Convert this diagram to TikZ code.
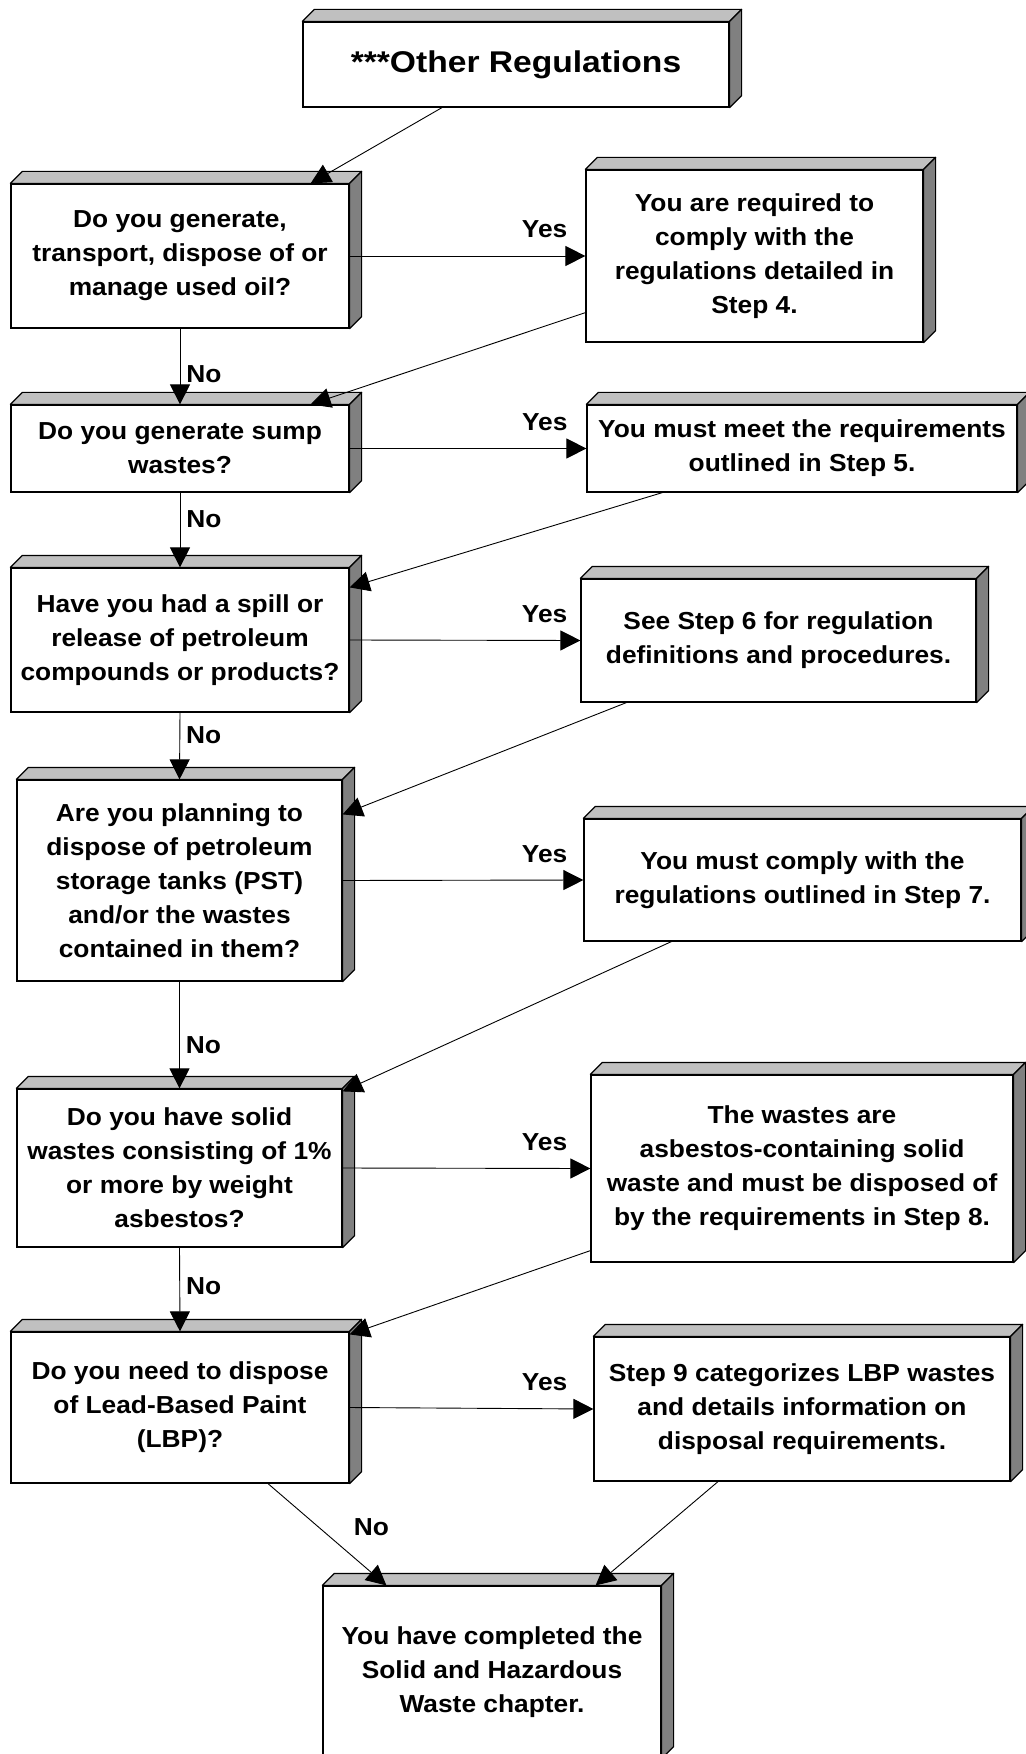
\documentclass[tikz,border=0pt]{standalone}
\usepackage{fontspec}
\setmainfont{Liberation Sans}[FakeStretch=1.07]
\newfontfamily\titlefont{Liberation Sans}[FakeStretch=1.12]
\usetikzlibrary{arrows.meta}

\definecolor{topgrey}{HTML}{C0C0C0}
\definecolor{sidegrey}{HTML}{808080}

\tikzset{
    stepbox/.style={draw, line width=0.6pt, fill=white, inner sep=0pt, align=center,
        font=\bfseries\fontsize{12.3}{17}\selectfont},
    face/.style={draw, line width=0.6pt, line join=round},
    flow/.style={line width=0.45pt, -{Triangle[length=10pt,width=10pt]}},
    answer/.style={inner sep=0pt, font=\bfseries\fontsize{12.3}{17}\selectfont},
}

% raised top and right faces of a box node
\newcommand{\boxslab}[1]{%
    \draw[face, fill=topgrey] (#1.north west) -- ++(12,-12) -- ([shift={(12,-12)}]#1.north east) -- (#1.north east) -- cycle;
    \draw[face, fill=sidegrey] (#1.north east) -- ++(12,-12) -- ([shift={(12,-12)}]#1.south east) -- (#1.south east) -- cycle;
}

\begin{document}
\begin{tikzpicture}[x=0.5pt, y=-0.5pt]
        \useasboundingbox (0,0) rectangle (1025,1754);

        \node[stepbox, minimum width=213pt, minimum height=42.5pt,
            font=\titlefont\bfseries\fontsize{15}{17}\selectfont] (top) at (516,64.5) {***Other Regulations};

        \node[stepbox, minimum width=169pt, minimum height=72pt] (q1) at (180,256)
            {Do you generate,\\transport, dispose of or\\manage used oil?};
        \node[stepbox, minimum width=169pt, minimum height=43.5pt] (q2) at (180,448.5)
            {Do you generate sump\\wastes?};
        \node[stepbox, minimum width=169pt, minimum height=72pt] (q3) at (180,640)
            {Have you had a spill or\\release of petroleum\\compounds or products?};
        \node[stepbox, minimum width=162.5pt, minimum height=100.5pt] (q4) at (179.5,880.5)
            {Are you planning to\\dispose of petroleum\\storage tanks (PST)\\and/or the wastes\\contained in them?};
        \node[stepbox, minimum width=162.5pt, minimum height=79pt] (q5) at (179.5,1168)
            {Do you have solid\\wastes consisting of 1\%\\or more by weight\\asbestos?};
        \node[stepbox, minimum width=169pt, minimum height=75.5pt] (q6) at (180,1407.5)
            {Do you need to dispose\\of Lead-Based Paint\\(LBP)?};

        \node[stepbox, minimum width=168.5pt, minimum height=86pt] (r1) at (754.5,256)
            {You are required to\\comply with the\\regulations detailed in\\Step 4.};
        \node[stepbox, minimum width=215pt, minimum height=43.5pt] (r2) at (802,448.5)
            {You must meet the requirements\\outlined in Step 5.};
        \node[stepbox, minimum width=197.5pt, minimum height=61.5pt] (r3) at (778.5,640.5)
            {See Step 6 for regulation\\definitions and procedures.};
        \node[stepbox, minimum width=218.5pt, minimum height=61pt] (r4) at (802.5,880)
            {You must comply with the\\regulations outlined in Step 7.};
        \node[stepbox, minimum width=211pt, minimum height=93.5pt] (r5) at (802,1168.5)
            {The wastes are\\asbestos-containing solid\\waste and must be disposed of\\by the requirements in Step 8.};
        \node[stepbox, minimum width=208pt, minimum height=72pt] (r6) at (802,1409)
            {Step 9 categorizes LBP wastes\\and details information on\\disposal requirements.};

        \node[stepbox, minimum width=169pt, minimum height=86pt] (done) at (492,1672)
            {You have completed the\\Solid and Hazardous\\Waste chapter.};

        \boxslab{top}
        \boxslab{q1} \boxslab{q2} \boxslab{q3} \boxslab{q4} \boxslab{q5} \boxslab{q6}
        \boxslab{r1} \boxslab{r2} \boxslab{r3} \boxslab{r4} \boxslab{r5} \boxslab{r6}
        \boxslab{done}

        % yes branches
        \draw[flow] (q1.east) -- node[answer, pos=0.827, anchor=base, yshift=9pt] (yes1) {Yes} (r1.west);
        \draw[flow] (q2.east) -- node[answer, pos=0.824, anchor=base, yshift=9pt] (yes2) {Yes} (r2.west);
        \draw[flow] (q3.east) -- node[answer, pos=0.845, anchor=base, yshift=9pt] (yes3) {Yes} (r3.west);
        \draw[flow] (q4.east) -- node[answer, pos=0.839, anchor=base, yshift=9pt] (yes4) {Yes} (r4.west);
        \draw[flow] (q5.east) -- node[answer, pos=0.815, anchor=base, yshift=9pt] (yes5) {Yes} (r5.west);
        \draw[flow] (q6.east) -- node[answer, pos=0.800, anchor=base, yshift=9pt] (yes6) {Yes} (r6.west);

        % no branches
        \draw[flow] (q1.south) -- node[answer, pos=0.71, anchor=base west, xshift=3pt] (no1) {No} (q2.north);
        \draw[flow] (q2.south) -- node[answer, pos=0.46, anchor=base west, xshift=3pt] (no2) {No} (q3.north);
        \draw[flow] (q3.south) -- node[answer, pos=0.46, anchor=base west, xshift=3pt] (no3) {No} (q4.north);
        \draw[flow] (q4.south) -- node[answer, pos=0.67, anchor=base west, xshift=3pt] (no4) {No} (q5.north);
        \draw[flow] (q5.south) -- node[answer, pos=0.56, anchor=base west, xshift=3pt] (no5) {No} (q6.north);
        \draw[flow] ([xshift=44pt]q6.south) -- node[answer, pos=0.51, anchor=base west, xshift=12.5pt] (no6) {No} ([xshift=32pt]done.north west);

        % back to the next question
        \draw[flow] ([xshift=-37pt]top.south) -- ([xshift=-19.5pt]q1.north east);
        \draw[flow] ([yshift=15pt]r1.south west) -- ([xshift=-19.5pt]q2.north east);
        \draw[flow] ([xshift=38pt]r2.south west) -- ([yshift=-10pt]q3.north east);
        \draw[flow] ([xshift=23pt]r3.south west) -- ([yshift=-17.5pt]q4.north east);
        \draw[flow] ([xshift=44pt]r4.south west) -- ([yshift=-1.5pt]q5.north east);
        \draw[flow] ([yshift=6pt]r5.south west) -- ([yshift=-1.5pt]q6.north east);
        \draw[flow] ([xshift=-42pt]r6.south) -- ([xshift=-33pt]done.north east);
    \end{tikzpicture}
\end{document}
